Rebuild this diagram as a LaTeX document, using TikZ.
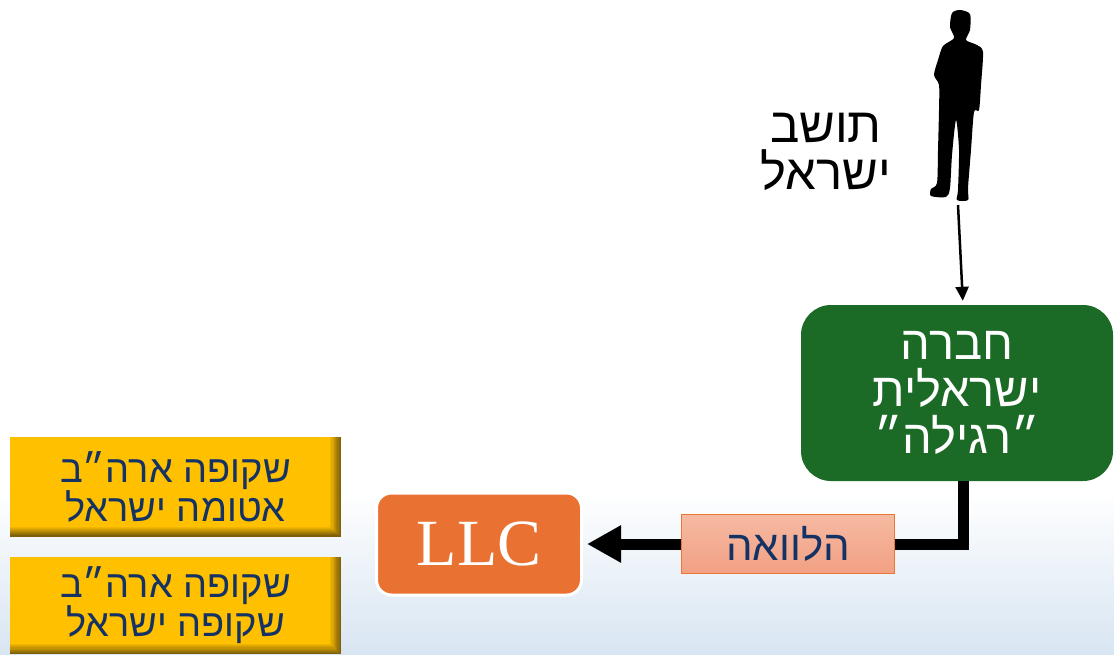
\documentclass[tikz,border=0pt]{standalone}
\usepackage{fontspec}
\setmainfont{Liberation Sans}
\newfontfamily\hebfont[Script=Hebrew]{Liberation Sans}
\newfontfamily\llcfont{Liberation Serif}
\TeXXeTstate=1
\usetikzlibrary{arrows.meta,positioning,calc}
\definecolor{dg}{RGB}{27,106,38}
\definecolor{llcorange}{RGB}{233,113,50}
\definecolor{ybar}{RGB}{255,192,0}
\definecolor{ybardark}{RGB}{125,95,10}
\definecolor{navy}{RGB}{20,50,100}
\definecolor{salmontop}{RGB}{245,186,162}
\definecolor{salmonbot}{RGB}{242,160,132}
\definecolor{loanedge}{RGB}{236,118,52}
\definecolor{paleblue}{RGB}{216,229,242}
\tikzset{
    resident/.style = {text=black,
                    align=center,
                    inner sep=0pt,
                    font=\hebfont\fontsize{49}{47}\selectfont},
    company/.style = {rectangle,
                    rounded corners=30pt,
                    fill=dg,
                    text=white,
                    align=center,
                    minimum width=312pt,
                    minimum height=176pt,
                    font=\hebfont\fontsize{47}{47}\selectfont},
    llc/.style =    {rectangle,
                    rounded corners=15pt,
                    fill=llcorange,
                    draw=white,
                    line width=3pt,
                    text=white,
                    minimum width=205pt,
                    minimum height=102pt,
                    font=\llcfont\fontsize{66}{66}\selectfont},
    loan/.style =   {rectangle,
                    top color=salmontop,
                    bottom color=salmonbot,
                    draw=loanedge,
                    line width=1.5pt,
                    text=navy,
                    minimum width=213pt,
                    minimum height=59pt,
                    font=\hebfont\fontsize{42}{42}\selectfont},
    ybox/.style =   {rectangle,
                    fill=ybar,
                    text=navy,
                    align=center,
                    minimum width=331pt,
                    font=\hebfont\fontsize{38}{38}\selectfont,
                    path picture={
                        \foreach \k [evaluate=\k as \p using int(\k*11)] in {1,...,9}{
                            \fill[ybardark!\p!ybar]
                                ([yshift={(10-\k)*1.1pt}]path picture bounding box.south west)
                                rectangle (path picture bounding box.south east);
                            \fill[ybardark!\p!ybar]
                                ([xshift={-(10-\k)*1.2pt}]path picture bounding box.north east)
                                rectangle (path picture bounding box.south east);}}},
    loanline/.style = {line width=11pt,
                    -{Triangle[length=34pt,width=35pt]},
                    shorten >=4pt},
    ownline/.style = {line width=2.5pt,
                    -{Triangle[length=14pt,width=13pt]},
                    shorten >=4pt}
}
\begin{document}
\begin{tikzpicture}[x=1pt,y=-1pt]
    % background
    \fill[white] (0,0) rectangle (1114,654);
    \shade[top color=white, bottom color=paleblue] (0,490) rectangle (1114,654);
    \useasboundingbox (0,0) rectangle (1114,654);
    % person
    \fill[black] plot[smooth cycle, tension=0.45] coordinates {
        (960,10) (952,13) (950,27) (954,38) (943,46) (938,60) (934,75)
        (939,85) (939,110) (938,150) (937,183) (931,189) (931,196)
        (946,197) (950,188) (952,155) (956,120) (959,150) (958,190)
        (957,200) (968,200) (968,188) (971,150) (974,112) (979,110)
        (981,85) (983,52) (977,45) (966,40) (970,30) (970,14)};
    \coordinate (feet) at (958,205);
    \node[resident]     (res) at (826,152)  {\beginR תושב\endR\\\beginR ישראל\endR};
    \node[company]      (isr) at (957,393)  {\beginR חברה\endR\\\beginR ישראלית\endR\\\beginR ״רגילה״\endR};
    \node[llc]          (LLC) at (479,544)  {LLC};
    \node[ybox, minimum height=100pt] (opq) at (175.5,486.5)
        {\beginR שקופה ארה״ב\endR\\\beginR אטומה ישראל\endR};
    \node[ybox, minimum height=97pt] (trn) at (175.5,605.5)
        {\beginR שקופה ארה״ב\endR\\\beginR שקופה ישראל\endR};
    \draw[ownline] (feet) -- ([xshift=6pt]isr.north);
    \draw[loanline] ([xshift=6pt]isr.south) |- (LLC.east)
        node[loan, pos=0.73] (lo) {\beginR הלוואה\endR};
\end{tikzpicture}
\end{document}
